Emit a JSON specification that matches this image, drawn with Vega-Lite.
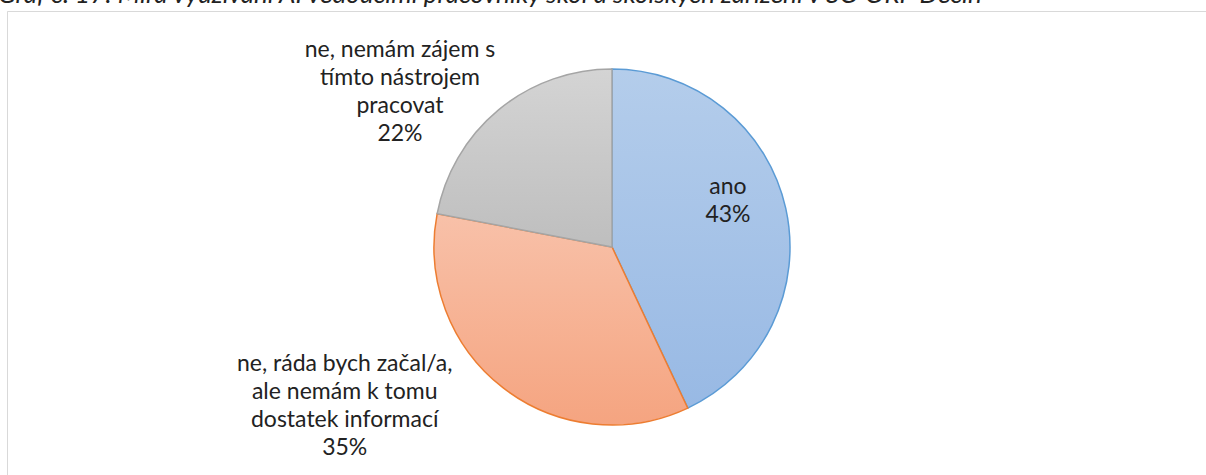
{
  "$schema": "https://vega.github.io/schema/vega-lite/v6.json",
  "width": 1199,
  "height": 464,
  "autosize": {"type": "none"},
  "padding": {"left": 7, "top": 11, "right": 0, "bottom": 0},
  "background": "white",
  "view": {"stroke": "#d9d9d9", "strokeWidth": 1, "fill": null, "strokeDash": [1199, 1663, 465]},
  "title": {
    "text": "Graf č. 17: Míra využívání AI vedoucími pracovníky škol a školských zařízení v SO ORP Děčín",
    "anchor": "start",
    "frame": "group",
    "orient": "top",
    "baseline": "alphabetic",
    "offset": 4,
    "dy": 22,
    "dx": -9,
    "font": "Lato",
    "fontStyle": "italic",
    "fontWeight": "normal",
    "fontSize": 26,
    "color": "#222222"
  },
  "data": {
    "values": [
      {"i": 1, "kategorie": "ano", "podil": 43, "popisek": "ano\n43%"},
      {"i": 2, "kategorie": "ne, ráda bych začal/a, ale nemám k tomu dostatek informací", "podil": 35, "popisek": "ne, ráda bych začal/a,\nale nemám k tomu\ndostatek informací\n35%"},
      {"i": 3, "kategorie": "ne, nemám zájem s tímto nástrojem pracovat", "podil": 22, "popisek": "ne, nemám zájem s\ntímto nástrojem\npracovat\n22%"}
    ]
  },
  "encoding": {
    "theta": {"field": "podil", "type": "quantitative", "stack": true},
    "order": {"field": "i", "type": "quantitative"}
  },
  "layer": [
    {
      "mark": {"type": "arc", "radius": 178, "strokeWidth": 1.5, "xOffset": 5.5, "yOffset": 4},
      "encoding": {
        "fill": {
          "condition": [
            {"test": "datum.i === 1", "value": {"gradient": "linear", "x1": 0, "y1": 0, "x2": 0, "y2": 1, "stops": [{"offset": 0, "color": "#b4cdeb"}, {"offset": 1, "color": "#98b9e4"}]}},
            {"test": "datum.i === 2", "value": {"gradient": "linear", "x1": 0, "y1": 0, "x2": 0, "y2": 1, "stops": [{"offset": 0, "color": "#f8c1a9"}, {"offset": 1, "color": "#f5a480"}]}}
          ],
          "value": {"gradient": "linear", "x1": 0, "y1": 0, "x2": 0, "y2": 1, "stops": [{"offset": 0, "color": "#d4d4d4"}, {"offset": 1, "color": "#bebebe"}]}
        },
        "stroke": {
          "condition": [
            {"test": "datum.i === 1", "value": "#5b9bd5"},
            {"test": "datum.i === 2", "value": "#ed7d31"}
          ],
          "value": "#a5a5a5"
        }
      }
    },
    {
      "mark": {"type": "text", "radius": 125, "xOffset": 5.5, "yOffset": 4, "dx": -6, "dy": -33, "font": "Lato", "fontSize": 23, "lineHeight": 28, "lineBreak": "\n", "align": "center", "baseline": "middle", "color": "#222222"},
      "encoding": {"text": {"condition": {"test": "datum.i === 1", "field": "popisek"}, "value": ""}}
    },
    {
      "mark": {"type": "text", "radius": 100, "xOffset": 5.5, "yOffset": 4, "dx": -206, "dy": 38, "font": "Lato", "fontSize": 23, "lineHeight": 28, "lineBreak": "\n", "align": "center", "baseline": "middle", "color": "#222222"},
      "encoding": {"text": {"condition": {"test": "datum.i === 2", "field": "popisek"}, "value": ""}}
    },
    {
      "mark": {"type": "text", "radius": 262, "xOffset": 5.5, "yOffset": 4, "dx": -45, "dy": 5, "font": "Lato", "fontSize": 23, "lineHeight": 28, "lineBreak": "\n", "align": "center", "baseline": "middle", "color": "#222222"},
      "encoding": {"text": {"condition": {"test": "datum.i === 3", "field": "popisek"}, "value": ""}}
    }
  ]
}
